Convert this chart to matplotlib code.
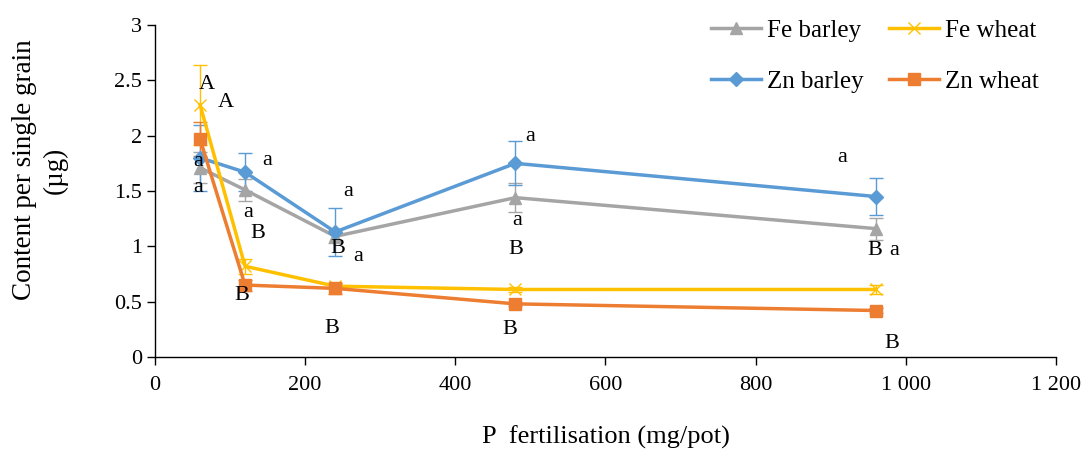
import matplotlib
matplotlib.use("Agg")
import matplotlib.pyplot as plt
from matplotlib.ticker import FuncFormatter
from matplotlib.lines import Line2D

plt.rcParams['font.family'] = ['Liberation Serif', 'DejaVu Serif']

p_rates = [60, 120, 240, 480, 960]
fe_barley = [1.71, 1.51, 1.09, 1.44, 1.16]
fe_barley_err = [0.14, 0.10, 0.06, 0.13, 0.10]
zn_barley = [1.80, 1.67, 1.13, 1.75, 1.45]
zn_barley_err = [0.30, 0.17, 0.22, 0.20, 0.17]
fe_wheat = [2.28, 0.82, 0.64, 0.61, 0.61]
fe_wheat_err = [0.36, 0.07, 0.03, 0.02, 0.04]
zn_wheat = [1.97, 0.65, 0.62, 0.48, 0.42]
zn_wheat_err = [0.15, 0.05, 0.05, 0.02, 0.02]

# letter annotations (x in mg/pot, y in µg)
letters = ["A", "A", "a", "a", "a", "a", "B", "B", "a", "B", "a", "B",
           "a", "a", "B", "B", "a", "B", "a", "B"]
letter_x = [69, 95, 57, 57, 150, 124, 137, 116, 257, 243, 271, 235,
            500, 483, 481, 472, 915, 959, 985, 981]
letter_y = [2.46, 2.30, 1.77, 1.53, 1.78, 1.31, 1.12, 0.56, 1.50, 0.98, 0.91, 0.26,
            1.99, 1.23, 0.97, 0.25, 1.80, 0.96, 0.96, 0.12]

colors = {'fe_barley': '#A5A5A5', 'zn_barley': '#5B9BD5',
          'fe_wheat': '#FFC000', 'zn_wheat': '#ED7D31'}

fig = plt.figure(figsize=(10.89, 4.5), dpi=100)
ax = fig.add_axes([0.1423, 0.2067, 0.8274, 0.7377])

handles = {}

def series(key, y, err, marker, label, ms):
    color = colors[key]
    ax.errorbar(p_rates, y, yerr=err, color=color, ecolor=color, elinewidth=1,
                capsize=5, capthick=1, lw=2.5, marker=marker, ms=ms,
                mfc=color, mec=color)
    handles[key] = Line2D([], [], color=color, lw=2.5, marker=marker, ms=ms,
                          mfc=color, mec=color, label=label)

series('fe_barley', fe_barley, fe_barley_err, '^', 'Fe barley', 8)
series('zn_barley', zn_barley, zn_barley_err, 'D', 'Zn barley', 7)
series('fe_wheat', fe_wheat, fe_wheat_err, 'x', 'Fe wheat', 8)
series('zn_wheat', zn_wheat, zn_wheat_err, 's', 'Zn wheat', 8)

for t, x, y in zip(letters, letter_x, letter_y):
    ax.text(x, y, t, fontsize=16, ha='center', va='center', color='black')

ax.set_xlim(0, 1200)
ax.set_ylim(0, 3)
ax.set_xticks([0, 200, 400, 600, 800, 1000, 1200])
ax.set_yticks([0, 0.5, 1, 1.5, 2, 2.5, 3])
ax.xaxis.set_major_formatter(FuncFormatter(lambda v, p: f"{int(v):,}".replace(",", " ")))
ax.yaxis.set_major_formatter(FuncFormatter(lambda v, p: f"{v:g}"))
ax.tick_params(axis='both', labelsize=16, direction='out', length=6, width=1)
ax.tick_params(axis='x', pad=8)
for s in ['top', 'right']:
    ax.spines[s].set_visible(False)
ax.spines['left'].set_linewidth(1)
ax.spines['bottom'].set_linewidth(1)

ax.set_xlabel("P  fertilisation (mg/pot)", fontsize=19, labelpad=22)
ax.set_ylabel("Content per single grain\n(µg)", fontsize=19.5, linespacing=1.3)
ax.yaxis.set_label_coords(-0.097, 0.563)

order = ['fe_barley', 'zn_barley', 'fe_wheat', 'zn_wheat']
ax.legend([handles[k] for k in order], [handles[k].get_label() for k in order],
          ncol=2, loc='upper right', bbox_to_anchor=(1.006, 1.085),
          frameon=False, fontsize=18, handlelength=2.0, columnspacing=1.0,
          labelspacing=1.15, handletextpad=0.25)

fig.savefig("out.png", dpi=100)
